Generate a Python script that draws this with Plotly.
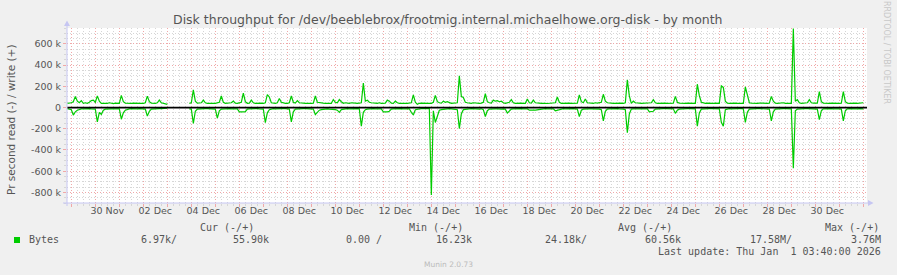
import pandas as pd
import plotly.graph_objects as go

# ---------------- data (thousands of bytes / second, 2-hour samples) ----------------
sample_start = "2025-11-28 20:00"
sample_step = "2h"

# write (+); one row per day: 00 02 04 06 08 10 12 14 16 18 20 22 h
write_k = [
    40, 42,                                                   # 28 Nov 20h, 22h
    45, 55, 105, 60, 45, 65, 40, 45, 40, 50, 65, 70,          # 29 Nov
    50, 110, 60, 40, 38, 42, 40, 45, 40, 38, 42, 40,          # 30 Nov
    40, 115, 55, 42, 40, 38, 40, 42, 40, 45, 42, 40,          # 01 Dec
    40, 45, 108, 55, 42, 40, 40, 45, 70, 45, 40, 38,          # 02 Dec
    30, None, None, None, None, None, None, None, None, None, None, 40,  # 03 Dec
    45, 166, 60, 42, 40, 45, 70, 45, 40, 42, 40, 40,          # 04 Dec
    40, 42, 50, 109, 50, 40, 42, 40, 45, 62, 42, 40,          # 05 Dec
    45, 50, 135, 55, 40, 42, 70, 45, 40, 42, 38, 42,          # 06 Dec
    40, 45, 122, 100, 45, 42, 40, 45, 85, 50, 42, 40,         # 07 Dec
    40, 45, 109, 50, 42, 65, 45, 40, 42, 40, 38, 40,          # 08 Dec
    40, 42, 109, 50, 45, 40, 42, 40, 42, 45, 40, 75,          # 09 Dec
    50, 45, 75, 55, 40, 45, 42, 40, 45, 40, 42, 40,           # 10 Dec
    40, 45, 230, 60, 70, 50, 45, 40, 42, 40, 45, 40,          # 11 Dec
    40, 42, 70, 60, 42, 40, 60, 45, 40, 42, 40, 40,           # 12 Dec
    40, 42, 45, 120, 50, 30, 40, 42, 40, 45, 42, 40,          # 13 Dec
    40, 50, 115, 55, 45, 42, 60, 50, 55, 45, 40, 42,          # 14 Dec
    40, 45, 299, 105, 95, 50, 45, 42, 40, 45, 42, 40,         # 15 Dec
    40, 42, 50, 130, 55, 45, 42, 70, 60, 65, 55, 60,          # 16 Dec
    45, 40, 42, 50, 75, 45, 40, 42, 40, 42, 40, 40,           # 17 Dec
    80, 45, 42, 70, 45, 40, 42, 40, 42, 40, 38, 40,           # 18 Dec
    40, 42, 45, 100, 50, 40, 42, 40, 45, 42, 40, 40,          # 19 Dec
    40, 42, 120, 55, 45, 80, 45, 40, 42, 40, 45, 42,          # 20 Dec
    45, 50, 125, 60, 45, 40, 42, 40, 42, 40, 40, 42,          # 21 Dec
    40, 45, 261, 110, 40, 60, 45, 40, 42, 40, 42, 40,         # 22 Dec
    40, 42, 45, 75, 45, 40, 42, 40, 45, 42, 40, 40,           # 23 Dec
    40, 42, 105, 50, 42, 40, 42, 40, 42, 40, 40, 42,          # 24 Dec
    40, 220, 112, 50, 42, 40, 42, 40, 42, 40, 42, 40,         # 25 Dec
    40, 204, 190, 60, 42, 40, 42, 40, 42, 40, 42, 40,         # 26 Dec
    40, 195, 110, 45, 42, 40, 42, 40, 42, 40, 40, 42,         # 27 Dec
    40, 42, 105, 60, 42, 40, 42, 40, 45, 40, 42, 40,          # 28 Dec
    40, 745, 60, 75, 45, 40, 42, 40, 45, 75, 45, 42,          # 29 Dec
    45, 42, 150, 55, 42, 40, 42, 40, 42, 40, 40, 42,          # 30 Dec
    40, 42, 150, 55, 42, 40, 42, 40, 42, 40, 42, 40,          # 31 Dec
    45,                                                       # 01 Jan 00h
]

# read (-), stored as magnitudes and drawn below zero
read_k = [
    10, 12,
    20, 71, 40, 25, 15, 12, 12, 10, 12, 10, 12, 15,           # 29 Nov
    15, 135, 45, 65, 25, 15, 12, 10, 12, 12, 10, 12,          # 30 Nov
    12, 110, 50, 25, 15, 12, 10, 12, 10, 12, 10, 10,          # 01 Dec
    12, 15, 81, 35, 15, 12, 10, 12, 10, 10, 8, 8,             # 02 Dec
    5, None, None, None, None, None, None, None, None, None, None, 12,  # 03 Dec
    15, 150, 35, 15, 12, 10, 12, 10, 10, 12, 10, 10,          # 04 Dec
    15, 100, 30, 15, 12, 10, 12, 10, 12, 10, 12, 12,          # 05 Dec
    40, 42, 40, 38, 15, 12, 10, 12, 10, 10, 12, 10,           # 06 Dec
    15, 142, 50, 20, 12, 10, 12, 10, 10, 12, 10, 10,          # 07 Dec
    12, 15, 135, 40, 15, 12, 10, 12, 10, 10, 12, 10,          # 08 Dec
    12, 15, 66, 40, 25, 20, 15, 15, 12, 15, 15, 15,           # 09 Dec
    20, 25, 45, 20, 15, 12, 10, 12, 10, 10, 12, 10,           # 10 Dec
    12, 176, 45, 20, 15, 12, 12, 10, 12, 12, 12, 12,          # 11 Dec
    40, 42, 40, 35, 15, 12, 10, 12, 10, 10, 12, 10,           # 12 Dec
    15, 12, 45, 70, 20, 15, 12, 10, 10, 12, 10, 10,           # 13 Dec
    824, 30, 141, 85, 25, 20, 15, 12, 12, 10, 12, 12,         # 14 Dec
    15, 20, 198, 60, 20, 15, 12, 12, 10, 12, 12, 12,          # 15 Dec
    15, 12, 20, 85, 30, 15, 12, 12, 12, 12, 15, 15,           # 16 Dec
    12, 15, 52, 30, 15, 12, 10, 12, 10, 10, 12, 10,           # 17 Dec
    12, 25, 28, 25, 25, 22, 15, 12, 10, 10, 12, 10,           # 18 Dec
    12, 12, 30, 25, 15, 12, 10, 12, 10, 10, 12, 10,           # 19 Dec
    12, 15, 85, 25, 15, 12, 12, 12, 12, 12, 12, 12,           # 20 Dec
    15, 20, 125, 35, 15, 12, 10, 12, 10, 10, 12, 10,          # 21 Dec
    15, 20, 236, 60, 15, 12, 12, 12, 12, 12, 12, 12,          # 22 Dec
    12, 40, 40, 35, 15, 12, 10, 12, 10, 10, 12, 10,           # 23 Dec
    12, 12, 55, 25, 15, 12, 10, 12, 10, 10, 12, 10,           # 24 Dec
    12, 175, 50, 15, 12, 10, 12, 10, 10, 12, 10, 10,          # 25 Dec
    12, 140, 175, 20, 12, 10, 12, 10, 10, 12, 10, 10,         # 26 Dec
    12, 140, 45, 15, 12, 10, 12, 10, 10, 12, 10, 10,          # 27 Dec
    15, 15, 125, 40, 15, 12, 10, 12, 10, 10, 12, 10,          # 28 Dec
    12, 572, 30, 15, 12, 10, 12, 10, 10, 12, 10, 10,          # 29 Dec
    15, 15, 115, 30, 12, 10, 12, 10, 10, 12, 10, 10,          # 30 Dec
    12, 15, 125, 30, 12, 10, 12, 10, 10, 12, 10, 10,          # 31 Dec
    12,                                                       # 01 Jan 00h
]

zero_rule = 0

x_range = ["2025-11-28 19:40", "2026-01-01 03:40"]
y_range = [-900, 750]

y_tick_vals = [-800, -600, -400, -200, 0, 200, 400, 600]
y_tick_text = ["-800 k", "-600 k", "-400 k", "-200 k", "0", "200 k", "400 k", "600 k"]

x_label_dates = ["2025-11-30 12:00", "2025-12-02 12:00", "2025-12-04 12:00", "2025-12-06 12:00",
                 "2025-12-08 12:00", "2025-12-10 12:00", "2025-12-12 12:00", "2025-12-14 12:00",
                 "2025-12-16 12:00", "2025-12-18 12:00", "2025-12-20 12:00", "2025-12-22 12:00",
                 "2025-12-24 12:00", "2025-12-26 12:00", "2025-12-28 12:00", "2025-12-30 12:00"]
x_label_text = ["30 Nov", "02 Dec", "04 Dec", "06 Dec", "08 Dec", "10 Dec", "12 Dec", "14 Dec",
                "16 Dec", "18 Dec", "20 Dec", "22 Dec", "24 Dec", "26 Dec", "28 Dec", "30 Dec"]

title_text = "Disk throughput for /dev/beeblebrox/frootmig.internal.michaelhowe.org-disk - by month"
y_title = "Pr second read (-) / write (+)"
legend_name = "Bytes"
legend_headers = ["Cur (-/+)", "Min (-/+)", "Avg (-/+)", "Max (-/+)"]
legend_values = ["6.97k/", "55.90k", "0.00 /", "16.23k", "24.18k/", "60.56k", "17.58M/", "3.76M"]
last_update = "Last update: Thu Jan \u00a01 03:40:00 2026"
munin_version = "Munin 2.0.73"
credit = "RRDTOOL / TOBI OETIKER"

# ---------------- figure ----------------
times = pd.date_range(sample_start, periods=len(write_k), freq=sample_step)
read_neg = [None if v is None else -v for v in read_k]

GREEN = "#00CC00"
MAJOR = "#F0A8A8"
MINOR = "#D6D6D6"
AXIS = "#C6C6F2"
TXT = "#555555"
SANS = "DejaVu Sans"
MONO = "DejaVu Sans Mono"

W, H = 897, 275
L, R, T, B = 67, 867, 28, 203


def px(x):
    return (x - L) / (R - L)


def py(y):
    return (B - y) / (B - T)


fig = go.Figure()
fig.add_trace(go.Scatter(x=times, y=read_neg, mode="lines", line=dict(color=GREEN, width=1.2),
                         connectgaps=False, hoverinfo="skip", showlegend=False))
fig.add_trace(go.Scatter(x=times, y=write_k, mode="lines", line=dict(color=GREEN, width=1.2),
                         connectgaps=False, hoverinfo="skip", showlegend=False))
fig.add_trace(go.Scatter(x=x_range, y=[zero_rule, zero_rule], xaxis="x2", mode="lines",
                         line=dict(color="black", width=1.8), hoverinfo="skip", showlegend=False))

fig.update_layout(
    width=W, height=H, autosize=False,
    margin=dict(l=L, r=W - R, t=T, b=H - B, pad=0),
    paper_bgcolor="#F0F0F0", plot_bgcolor="white",
    showlegend=False,
    xaxis=dict(type="date", range=x_range, tickmode="linear", tick0="2025-11-29 00:00",
               dtick=86400000, showticklabels=False, showgrid=True, gridcolor=MAJOR,
               griddash="1px,2px", gridwidth=1, ticks="outside", ticklen=3, tickcolor=MAJOR,
               zeroline=False, showline=False,
               minor=dict(tickmode="linear", tick0="2025-11-29 00:00", dtick=21600000,
                          showgrid=True, gridcolor=MINOR, griddash="1px,2px", gridwidth=1,
                          ticks="outside", ticklen=2, tickcolor=MINOR)),
    xaxis2=dict(type="date", range=x_range, overlaying="x", anchor="y", side="bottom",
                tickmode="array", tickvals=x_label_dates, ticktext=x_label_text,
                showgrid=False, zeroline=False, showline=False, ticks="",
                tickfont=dict(family=SANS, size=9.5, color=TXT)),
    yaxis=dict(range=y_range, tickmode="array", tickvals=y_tick_vals, ticktext=y_tick_text,
               showgrid=True, gridcolor=MAJOR, griddash="1px,2px", gridwidth=1,
               ticks="outside", ticklen=3, tickcolor=MAJOR, zeroline=False, showline=False,
               tickfont=dict(family=SANS, size=9.5, color=TXT),
               minor=dict(tickmode="linear", tick0=0, dtick=50, showgrid=True,
                          gridcolor=MINOR, griddash="1px,2px", gridwidth=1,
                          ticks="outside", ticklen=2, tickcolor=MINOR)),
)

shapes = [
    dict(type="line", xref="paper", yref="paper", x0=px(67), x1=px(67), y0=py(206), y1=py(23),
         line=dict(color=AXIS, width=1), layer="above"),
    dict(type="line", xref="paper", yref="paper", x0=px(63), x1=px(870), y0=py(203), y1=py(203),
         line=dict(color=AXIS, width=1), layer="above"),
    dict(type="path", xref="paper", yref="paper", fillcolor=AXIS, line=dict(width=0), layer="above",
         path=f"M {px(64)} {py(26)} L {px(70)} {py(26)} L {px(67)} {py(20.5)} Z"),
    dict(type="path", xref="paper", yref="paper", fillcolor=AXIS, line=dict(width=0), layer="above",
         path=f"M {px(868)} {py(200)} L {px(868)} {py(206)} L {px(873.5)} {py(203)} Z"),
    dict(type="rect", xref="paper", yref="paper", x0=px(14), x1=px(20), y0=py(243), y1=py(237),
         fillcolor=GREEN, line=dict(width=0)),
]
fig.update_layout(shapes=shapes)


def ann(text, x, y, size, family, color=TXT, xanchor="left", angle=0):
    return dict(text=text, x=px(x), y=py(y), xref="paper", yref="paper", showarrow=False,
                xanchor=xanchor, yanchor="middle", textangle=angle,
                font=dict(family=family, size=size, color=color))


annotations = [
    ann(title_text, 447.5, 19.3, 12.5, SANS, xanchor="center"),
    ann(y_title, 11, 120, 10.5, SANS, xanchor="center", angle=-90),
    ann(credit, 887, 53, 8, SANS, color="#C8C8C8", xanchor="center", angle=90),
    ann(legend_headers[0], 198, 227.7, 10, MONO),
    ann(legend_headers[1], 407, 227.7, 10, MONO),
    ann(legend_headers[2], 616, 227.7, 10, MONO),
    ann(legend_headers[3], 823, 227.7, 10, MONO),
    ann(legend_name, 26.5, 239.7, 10, MONO),
    ann(legend_values[0], 139, 239.7, 10, MONO),
    ann(legend_values[1], 231, 239.7, 10, MONO),
    ann(legend_values[2], 344, 239.7, 10, MONO),
    ann(legend_values[3], 473.5, 239.7, 10, MONO, xanchor="right"),
    ann(legend_values[4], 543, 239.7, 10, MONO),
    ann(legend_values[5], 643, 239.7, 10, MONO),
    ann(legend_values[6], 748, 239.7, 10, MONO),
    ann(legend_values[7], 883, 239.7, 10, MONO, xanchor="right"),
    ann(last_update, 883, 251.7, 10, MONO, xanchor="right"),
    ann(munin_version, 448, 264, 7.5, SANS, color="#BBBBBB", xanchor="center"),
]
fig.update_layout(annotations=annotations)

fig.write_html("out.html")
